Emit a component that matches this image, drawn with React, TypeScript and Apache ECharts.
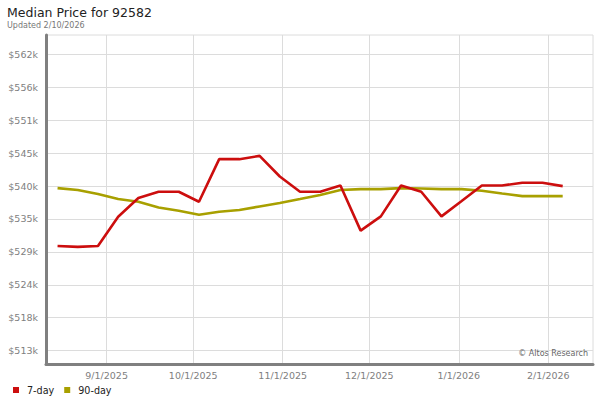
import React, { useEffect, useRef } from "react";
import * as echarts from "echarts";

const dates = [
  "2025-08-15", "2025-08-22", "2025-08-29", "2025-09-05", "2025-09-12", "2025-09-19",
  "2025-09-26", "2025-10-03", "2025-10-10", "2025-10-17", "2025-10-24", "2025-10-31",
  "2025-11-07", "2025-11-14", "2025-11-21", "2025-11-28", "2025-12-05", "2025-12-12",
  "2025-12-19", "2025-12-26", "2026-01-02", "2026-01-09", "2026-01-16", "2026-01-23",
  "2026-01-30", "2026-02-06",
];

const sevenDay = [
  530180, 530020, 530180, 534980, 538040, 539070, 539070, 537430, 544420, 544420,
  544960, 541570, 539070, 539070, 540100, 532690, 535030, 540100, 539070, 535030,
  537550, 540100, 540100, 540540, 540540, 540000,
];

const ninetyDay = [
  539670, 539350, 538690, 537870, 537430, 536500, 535960, 535300, 535800, 536070,
  536660, 537220, 537870, 538530, 539350, 539510, 539510, 539670, 539600, 539510,
  539510, 539230, 538790, 538360, 538360, 538360,
];

const yTicks = [513000, 518400, 523800, 529200, 534600, 540000, 545400, 550800, 556200, 561600];
const xTickDates = ["2025-09-01", "2025-10-01", "2025-11-01", "2025-12-01", "2026-01-01", "2026-02-01"];

const FONT = "DejaVu Sans";

export default function App() {
  const ref = useRef<HTMLDivElement>(null);
  useEffect(() => {
    if (!ref.current) return;
    document.body.style.margin = "0";
    const chart = echarts.init(ref.current, null, { renderer: "svg" });
    const ts = (s: string) => Date.parse(s + "T00:00:00Z");
    const xTicks = xTickDates.map(ts);
    const xMin = ts("2025-08-11");
    const xMax = ts("2026-02-16") + 12 * 3600 * 1000;
    chart.setOption({
      animation: false,
      textStyle: { fontFamily: FONT },
      grid: {
        left: 46,
        right: 7,
        top: 35,
        bottom: 36,
        show: true,
        borderColor: "#dcdcdc",
        borderWidth: 1,
        containLabel: false,
      },
      legend: {
        left: 8,
        top: 380,
        icon: "rect",
        itemWidth: 6,
        itemHeight: 6,
        itemGap: 10,
        data: ["7-day", "90-day"],
        textStyle: { fontSize: 9.6, color: "#222", fontFamily: FONT, padding: [0, 0, 0, 3] },
      },
      graphic: [
        {
          type: "text",
          left: 7,
          top: 6,
          style: { text: "Median Price for 92582", fontSize: 12.5, fontFamily: FONT, fill: "#222" },
        },
        {
          type: "text",
          left: 7,
          top: 21,
          style: { text: "Updated 2/10/2026", fontSize: 8, fontFamily: FONT, fill: "#777" },
        },
        {
          type: "text",
          right: 12,
          top: 349,
          z: 10,
          style: { text: "© Altos Research", fontSize: 8, fontFamily: FONT, fill: "#666" },
        },
      ],
      xAxis: {
        type: "value",
        min: xMin,
        max: xMax,
        axisLine: { show: true, onZero: false, lineStyle: { color: "#808080", width: 3 } },
        axisTick: { show: false, customValues: xTicks },
        splitLine: { show: true, lineStyle: { color: "#dcdcdc", width: 1 } },
        axisLabel: {
          customValues: xTicks,
          color: "#808080",
          fontSize: 9.5,
          margin: 6,
          fontFamily: FONT,
          formatter: (v: number) => {
            const d = new Date(v);
            return `${d.getUTCMonth() + 1}/${d.getUTCDate()}/${d.getUTCFullYear()}`;
          },
        },
      },
      yAxis: {
        type: "value",
        min: 510800,
        max: 564800,
        axisLine: { show: true, onZero: false, lineStyle: { color: "#808080", width: 3 } },
        axisTick: { show: false, customValues: yTicks },
        splitLine: { show: true, lineStyle: { color: "#dcdcdc", width: 1 } },
        axisLabel: {
          customValues: yTicks,
          color: "#808080",
          fontSize: 9.5,
          margin: 8,
          fontFamily: FONT,
          formatter: (v: number) => "$" + Math.round(v / 1000) + "k",
        },
      },
      series: [
        {
          name: "90-day",
          type: "line",
          z: 2,
          showSymbol: false,
          symbol: "none",
          data: dates.map((d, i) => [ts(d), ninetyDay[i]]),
          lineStyle: { color: "#a8a000", width: 2.6 },
          itemStyle: { color: "#a8a000" },
        },
        {
          name: "7-day",
          type: "line",
          z: 3,
          showSymbol: false,
          symbol: "none",
          data: dates.map((d, i) => [ts(d), sevenDay[i]]),
          lineStyle: { color: "#cc0e0e", width: 2.6 },
          itemStyle: { color: "#cc0e0e" },
        },
      ],
    });
    return () => chart.dispose();
  }, []);
  return <div ref={ref} style={{ width: 600, height: 400 }} />;
}
